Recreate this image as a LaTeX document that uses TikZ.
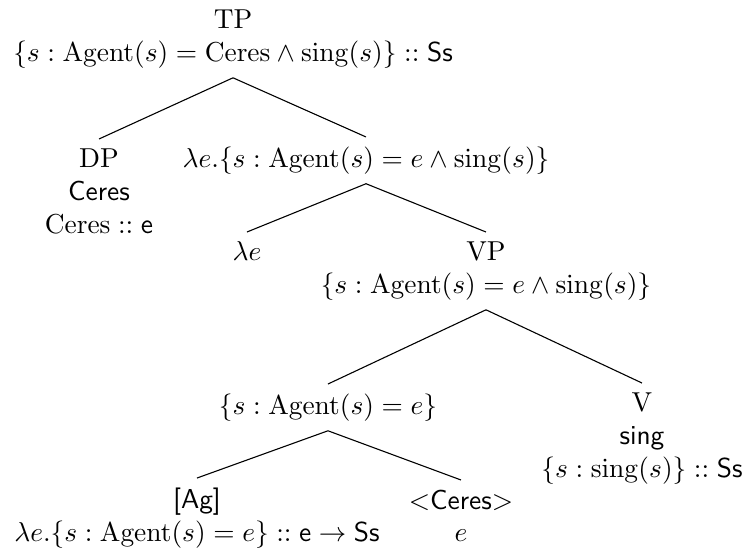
\documentclass[tikz,border=0pt]{standalone}
\usepackage{amsmath,amssymb}
\usepackage{tikz}
\usetikzlibrary{positioning}
\tikzset{tnode/.style={align=center, anchor=north}}
\newcommand{\Ag}{\mathrm{Agent}}
\newcommand{\sng}{\mathrm{sing}}

\begin{document}
\begin{tikzpicture}
    \useasboundingbox (0,0) rectangle (9.582,-7.093);

    \node (tp) [tnode] at (2.989, 0) {TP\\ $\{s : \Ag(s) = \mathrm{Ceres} \wedge \sng(s)\} :: \textsf{Ss}$};

    \node (dp) [tnode] at (1.270, -1.783) {DP\\ \textsf{Ceres}\\ $\mathrm{Ceres} :: \textsf{e}$};
    \node (tbar) [tnode] at (4.695, -1.757) {$\lambda e.\{s : \Ag(s) = e \wedge \sng(s)\}$};

    \node (lam) [tnode] at (3.168, -2.976) {$\lambda e$};
    \node (vp) [tnode] at (6.234, -2.976) {VP\\ $\{s : \Ag(s) = e \wedge \sng(s)\}$};

    \node (agent) [tnode] at (4.207, -4.926) {$\{s : \Ag(s) = e\}$};
    \node (v) [tnode] at (8.235, -4.913) {V\\ \textsf{sing}\\ $\{s : \sng(s)\} :: \textsf{Ss}$};

    \node (ag) [tnode] at (2.527, -6.132) {\textsf{[Ag]}\\ $\lambda e.\{s : \Ag(s) = e\} :: \textsf{e} \to \textsf{Ss}$};
    \node (ceres) [tnode] at (5.913, -6.157) {$<$\textsf{Ceres}$>$\\ $e$};

    % branches
    \foreach \p/\c in {tp/dp, tp/tbar, tbar/lam, tbar/vp, vp/agent, vp/v, agent/ag, agent/ceres}
        \draw (\p.south) -- (\c.north);
\end{tikzpicture}
\end{document}
